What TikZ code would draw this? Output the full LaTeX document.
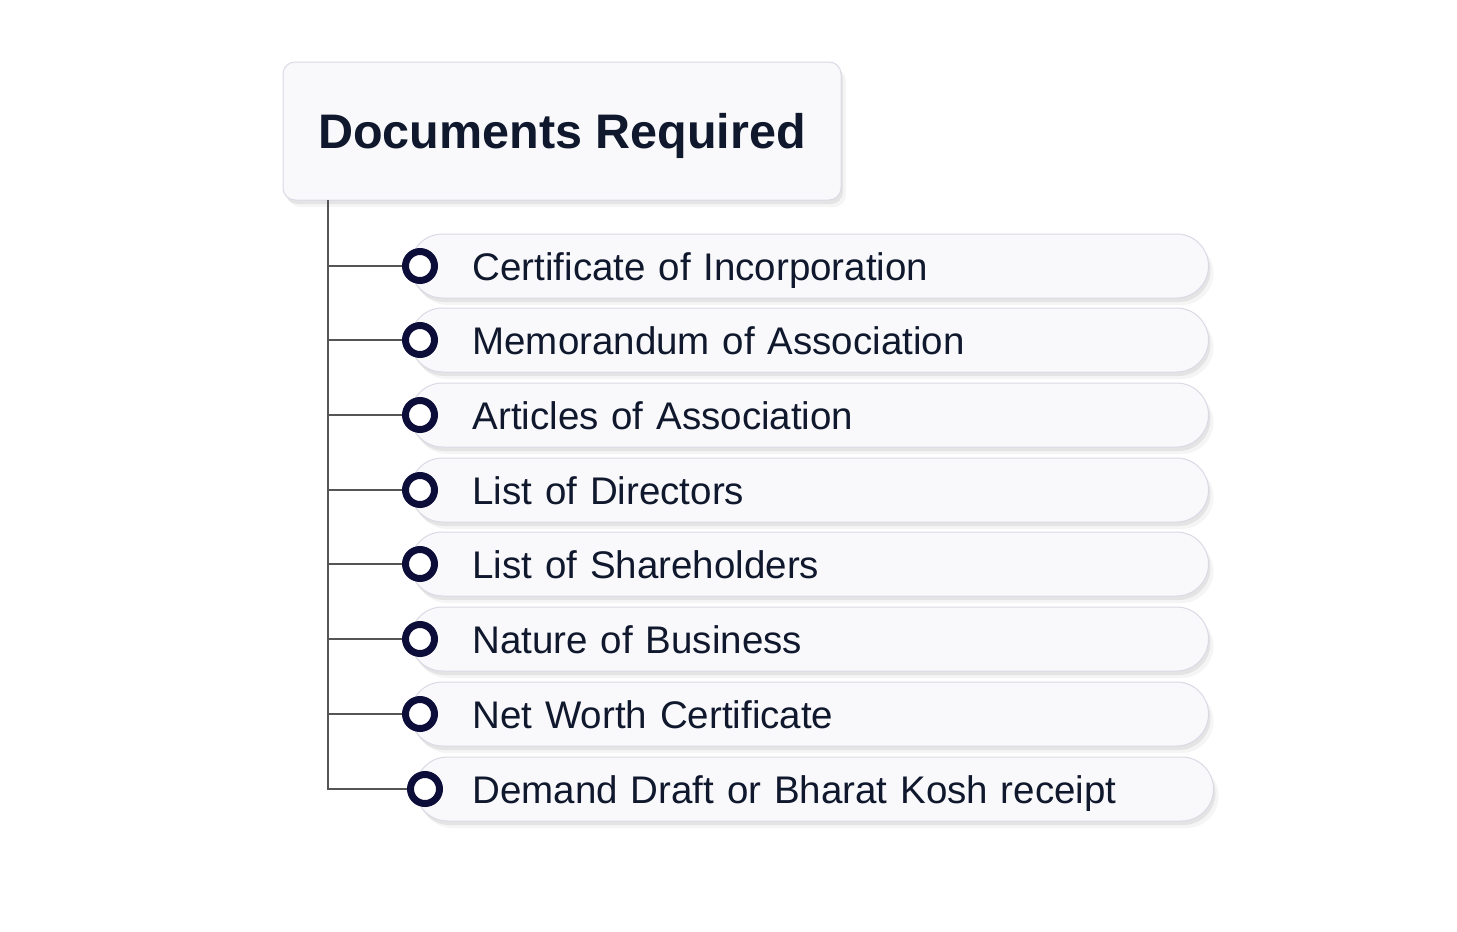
\documentclass[tikz,border=0pt]{standalone}
\usepackage{fontspec}
\setmainfont{Liberation Sans}
\usetikzlibrary{shadows}

\definecolor{inknavy}{RGB}{16,24,45}
\definecolor{ringnavy}{RGB}{13,13,58}
\definecolor{boxfill}{RGB}{249,249,251}
\definecolor{boxline}{RGB}{218,218,230}
\definecolor{treeline}{RGB}{85,85,85}

\tikzset{
  softshadow/.style={drop shadow={shadow xshift=2pt, shadow yshift=-4pt, opacity=.07, fill=black},
                     drop shadow={shadow xshift=5pt, shadow yshift=-7pt, opacity=.04, fill=black}},
  headbox/.style={rectangle, rounded corners=12pt, draw=boxline, line width=1pt, fill=boxfill, softshadow,
                  minimum width=558pt, minimum height=138pt, text=inknavy, text height=35pt, text depth=0pt,
                  font=\fontsize{48.5}{58}\selectfont\bfseries},
  pill/.style={rectangle, rounded corners=32pt, draw=boxline, line width=1pt, fill=boxfill, softshadow,
               minimum width=798pt, minimum height=64pt, inner xsep=62pt, text width=674pt, align=left,
               text height=28pt, text depth=0pt,
               anchor=west, text=inknavy, font=\fontsize{38.5}{46}\selectfont},
  ring/.style={circle, draw=ringnavy, line width=7pt, fill=white, minimum size=29pt, inner sep=0pt},
  branch/.style={draw=treeline, line width=1.5pt}
}

\begin{document}
\begin{tikzpicture}[x=1pt, y=-1pt]
  \useasboundingbox (0,0) rectangle (1457,932);
  \node[headbox] (head) at (562,131) {Documents Required};
  \coordinate (top) at (328,200);
  \foreach [count=\i] \doc/\y/\dx in {
      Certificate of Incorporation/266/0,
      Memorandum of Association/340/0,
      Articles of Association/415/0,
      List of Directors/490/0,
      List of Shareholders/564/0,
      Nature of Business/639/0,
      Net Worth Certificate/714/0,
      Demand Draft or Bharat Kosh receipt/789/5} {
    \node[pill, inner xsep=62pt-\dx pt, text width=674pt+2*\dx pt] (p\i) at (410+\dx,\y) {\doc};
    \node[ring] (c\i) at (420+\dx,\y) {};
  }
  \draw[branch] (top) |- (c8.west);
  \foreach \i in {1,...,7}
    \draw[branch] (top |- c\i) -- (c\i.west);
\end{tikzpicture}
\end{document}
